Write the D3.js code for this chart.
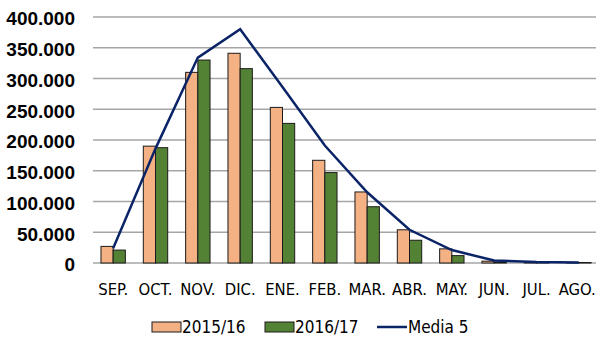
<!DOCTYPE html>
<html>
<head>
<meta charset="utf-8">
<script src="https://cdn.jsdelivr.net/npm/d3@7"></script>
<style>
  html, body { margin: 0; padding: 0; background: #ffffff; }
  svg { display: block; }
</style>
</head>
<body>
<svg id="chart" width="596" height="346"></svg>
<script>
// Monthly volumes per campaign (Sept → Aug)
const months = ["SEP.", "OCT.", "NOV.", "DIC.", "ENE.", "FEB.", "MAR.", "ABR.", "MAY.", "JUN.", "JUL.", "AGO."];
const campaign1516 = [27000, 190000, 310000, 341000, 253000, 167000, 115500, 54000, 23000, 3000, 500, 300];
const campaign1617 = [21000, 187500, 330000, 316000, 227000, 147000, 91500, 37000, 12000, 1500, 300, 800];
const media5 = [24000, 186000, 334000, 380000, 286000, 191000, 115000, 54000, 21000, 4000, 1500, 1000];
const yTicks = [0, 50000, 100000, 150000, 200000, 250000, 300000, 350000, 400000];
const seriesNames = ["2015/16", "2016/17", "Media 5"];

const colors = { s1: "#f4b183", s2: "#548235", line: "#0b2467", grid: "#a6a6a6" };

const svg = d3.select("#chart");
const plot = { left: 92, right: 600, top: 17, bottom: 263 };

const x = d3.scaleBand()
  .domain(months)
  .range([plot.left, plot.right])
  .paddingInner(0.424)
  .paddingOuter(0.212);

const xSub = d3.scaleBand()
  .domain(["a", "b"])
  .range([0, x.bandwidth()]);

const y = d3.scaleLinear()
  .domain([0, 400000])
  .range([plot.bottom, plot.top]);

const fmt = v => d3.format(",")(v).replace(/,/g, ".");

// Horizontal gridlines
svg.append("g")
  .selectAll("line")
  .data(yTicks)
  .join("line")
  .attr("x1", plot.left + 1)
  .attr("x2", 596)
  .attr("y1", d => y(d))
  .attr("y2", d => y(d))
  .attr("stroke", colors.grid)
  .attr("stroke-width", 1.5);

// Y axis labels
const yAxis = d3.axisLeft(y).tickValues(yTicks).tickFormat(fmt).tickSize(0).tickPadding(0);
const gy = svg.append("g").attr("transform", "translate(75,0)").call(yAxis);
gy.select(".domain").remove();
gy.selectAll("text")
  .attr("font-family", "'Liberation Sans', Arial, sans-serif")
  .attr("font-weight", "bold")
  .attr("font-size", 19)
  .attr("fill", "#000")
  .attr("dy", "0.42em");

// Bars
const rows = months.map((m, i) => ({ m, a: campaign1516[i], b: campaign1617[i] }));
const groups = svg.append("g").selectAll("g")
  .data(rows)
  .join("g")
  .attr("transform", d => `translate(${x(d.m)},0)`);

groups.append("rect")
  .attr("x", xSub("a"))
  .attr("width", xSub.bandwidth())
  .attr("y", d => y(d.a))
  .attr("height", d => y(0) - y(d.a))
  .attr("fill", colors.s1)
  .attr("stroke", "#1a1a1a")
  .attr("stroke-width", 1);

groups.append("rect")
  .attr("x", xSub("b"))
  .attr("width", xSub.bandwidth())
  .attr("y", d => y(d.b))
  .attr("height", d => y(0) - y(d.b))
  .attr("fill", colors.s2)
  .attr("stroke", "#1a1a1a")
  .attr("stroke-width", 1);

// Five-year average line
const line = d3.line()
  .x((d, i) => x(months[i]) + x.bandwidth() / 2)
  .y(d => y(d));

svg.append("path")
  .datum(media5)
  .attr("d", line)
  .attr("fill", "none")
  .attr("stroke", colors.line)
  .attr("stroke-width", 2.5)
  .attr("stroke-linejoin", "miter");

// X axis labels
const xAxis = d3.axisBottom(x).tickSize(0).tickPadding(0);
const gx = svg.append("g").attr("transform", "translate(0,283)").call(xAxis);
gx.select(".domain").remove();
gx.selectAll("text")
  .attr("font-family", "'Liberation Sans Narrow', 'DejaVu Sans Condensed', 'Liberation Sans', sans-serif")
  .attr("font-size", 16.5)
  .attr("fill", "#000")
  .attr("dy", "0.72em");
// keep the last month label inside the canvas
gx.selectAll(".tick").filter(d => d === months[months.length - 1])
  .select("text").attr("text-anchor", "end").attr("x", 17);

// Legend
const legend = svg.append("g").attr("font-family", "'Liberation Sans Narrow', 'DejaVu Sans Condensed', 'Liberation Sans', sans-serif").attr("font-size", 17);
const legendItems = [
  { name: seriesNames[0], type: "rect", color: colors.s1, x: 152, w: 29 },
  { name: seriesNames[1], type: "rect", color: colors.s2, x: 265, w: 29 },
  { name: seriesNames[2], type: "line", color: colors.line, x: 377, w: 30 }
];
legendItems.forEach(it => {
  if (it.type === "rect") {
    legend.append("rect")
      .attr("x", it.x).attr("y", 322).attr("width", it.w).attr("height", 10)
      .attr("fill", it.color).attr("stroke", "#1a1a1a").attr("stroke-width", 1);
  } else {
    legend.append("line")
      .attr("x1", it.x).attr("x2", it.x + it.w).attr("y1", 327).attr("y2", 327)
      .attr("stroke", it.color).attr("stroke-width", 2.5);
  }
  legend.append("text")
    .attr("x", it.x + it.w + 1)
    .attr("y", 333)
    .attr("fill", "#000")
    .text(it.name);
});
</script>
</body>
</html>
